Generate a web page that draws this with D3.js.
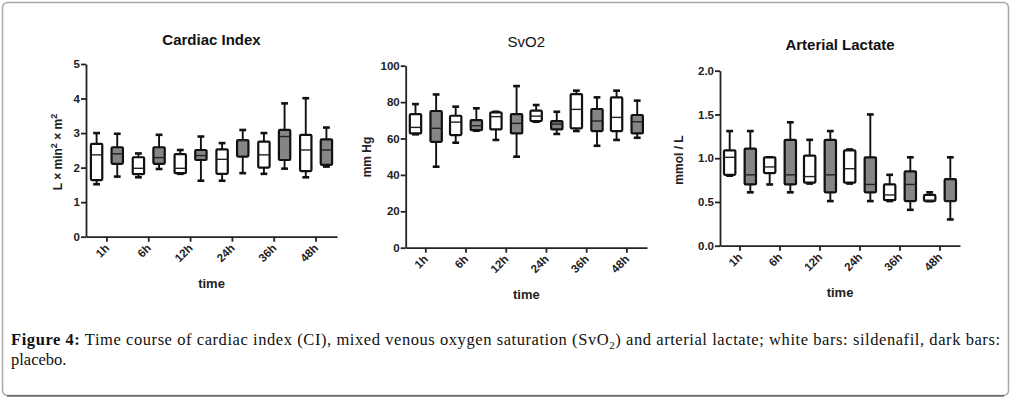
<!DOCTYPE html>
<html><head><meta charset="utf-8">
<script src="https://cdn.jsdelivr.net/npm/d3@7"></script>
<style>
html,body{margin:0;padding:0;background:#fff;}
svg{display:block;}
</style></head>
<body>
<svg id="chart" width="1012" height="399"></svg>
<script>
// ---- Data (each box: [min, q1, median, q3, max]) ----
const timeLabels = ["1h","6h","12h","24h","36h","48h"];
const seriesNames = ["sildenafil","placebo"];

const ciSildenafil = [[1.52,1.64,2.37,2.69,3.0],[1.72,1.81,1.98,2.30,2.41],[1.82,1.84,1.98,2.39,2.51],[1.62,1.82,2.24,2.53,2.71],[1.82,2.0,2.37,2.75,3.0],[1.72,1.90,2.51,2.95,4.01]];
const ciPlacebo    = [[1.74,2.11,2.40,2.59,2.98],[1.96,2.11,2.29,2.59,2.95],[1.62,2.22,2.35,2.51,2.90],[1.84,2.32,2.78,2.80,3.09],[1.97,2.22,2.90,3.09,3.86],[2.03,2.08,2.51,2.82,3.16]];
const ciTicks = [0,1,2,3,4,5];

const svoSildenafil = [[62.3,62.8,66.1,73.4,78.9],[57.7,61.9,69.0,72.5,77.5],[59.2,65.0,72.0,74.4,74.7],[69.2,69.6,72.3,75.3,78.4],[64.1,65.6,76.0,84.4,86.3],[59.2,64.1,71.6,82.6,86.3]];
const svoPlacebo    = [[44.5,58.2,65.6,75.1,84.2],[64.3,64.6,67.0,70.1,76.6],[50.0,62.8,68.3,73.4,88.8],[62.5,65.0,67.9,69.6,74.7],[56.0,64.1,69.6,76.2,82.6],[60.4,62.8,69.2,72.9,80.8]];
const svoTicks = [0,20,40,60,80,100];

const lacSildenafil = [[0.80,0.81,1.01,1.09,1.31],[0.70,0.83,0.90,1.01,1.01],[0.71,0.72,0.79,1.03,1.21],[0.71,0.72,0.88,1.09,1.10],[0.51,0.52,0.58,0.70,0.81],[0.51,0.51,0.52,0.58,0.61]];
const lacPlacebo    = [[0.61,0.70,0.81,1.11,1.31],[0.61,0.70,0.81,1.21,1.41],[0.51,0.61,0.81,1.21,1.31],[0.51,0.61,0.70,1.01,1.50],[0.41,0.51,0.70,0.85,1.01],[0.30,0.51,0.51,0.76,1.01]];
const lacTicks = [0,0.5,1.0,1.5,2.0];

const captionLine1 = ["Figure 4:", " Time course of cardiac index (CI), mixed venous oxygen saturation (SvO", "2", ") and arterial lactate; white bars: sildenafil, dark bars:"];
const captionLine2 = "placebo.";

// ---- Drawing ----
const svg = d3.select("#chart");
const seriesFill = ["#ffffff","#858585"];

// frame
svg.append("rect").attr("x",2.5).attr("y",2.5).attr("width",1006).attr("height",393)
  .attr("rx",5).attr("fill","none").attr("stroke","#a8a8a8").attr("stroke-width",1.5);
svg.append("line").attr("x1",7).attr("x2",1004).attr("y1",396).attr("y2",396)
  .attr("stroke","#333").attr("stroke-width",1.2);

const panels = [
  {title:"Cardiac Index", titleBold:true, x0:86, x1:337, yBottom:236.7, yTop:64, domain:[0,5], ticks:ciTicks, fmt:d3.format("d"),
   data:[ciSildenafil,ciPlacebo], ylabelX:62, ylabelY:152, titleY:45, timeY:288, ylabel:"ci"},
  {title:"SvO2", titleBold:false, x0:405.7, x1:647, yBottom:247.7, yTop:65.7, domain:[0,100], ticks:svoTicks, fmt:d3.format("d"),
   data:[svoSildenafil,svoPlacebo], ylabelX:371, ylabelY:157, titleY:47, timeY:299, ylabel:"mm Hg"},
  {title:"Arterial Lactate", titleBold:true, x0:720, x1:960, yBottom:245.7, yTop:70.7, domain:[0,2], ticks:lacTicks, fmt:d3.format(".1f"),
   data:[lacSildenafil,lacPlacebo], ylabelX:683, ylabelY:160, titleY:50, timeY:297, ylabel:"mmol / L"}
];

panels.forEach(p => {
  const g = svg.append("g");
  const x = d3.scaleBand().domain(timeLabels).range([p.x0,p.x1]);
  const y = d3.scaleLinear().domain(p.domain).range([p.yBottom,p.yTop]);
  const xs = d3.scaleBand().domain(seriesNames).range([-16,16]).paddingInner(0.45);

  // y axis
  const ya = g.append("g").attr("transform",`translate(${p.x0},0)`)
    .call(d3.axisLeft(y).tickValues(p.ticks).tickFormat(p.fmt).tickSize(5).tickSizeOuter(0));
  // x axis
  const xa = g.append("g").attr("transform",`translate(0,${p.yBottom})`)
    .call(d3.axisBottom(x).tickSize(5).tickSizeOuter(0));
  [ya,xa].forEach(a => {
    a.select(".domain").attr("stroke","#222").attr("stroke-width",1.8);
    a.selectAll(".tick line").attr("stroke","#222").attr("stroke-width",1.8);
    a.selectAll("text").attr("font-family","Liberation Sans, Arial, sans-serif")
      .attr("font-weight","bold").attr("font-size",11.5).attr("fill","#222");
  });
  ya.selectAll("text").attr("x",-6);
  xa.selectAll("text").attr("text-anchor","end").attr("dy",null).attr("y",0)
    .attr("transform","translate(3,12) rotate(-45)");

  // boxes
  p.data.forEach((series,si) => {
    series.forEach((d,i) => {
      const cx = x(timeLabels[i]) + x.bandwidth()/2 + xs(seriesNames[si]) + xs.bandwidth()/2;
      const w = xs.bandwidth();
      const bg = g.append("g");
      const sw = 1.9;
      bg.append("line").attr("x1",cx).attr("x2",cx).attr("y1",y(d[0])).attr("y2",y(d[1])).attr("stroke","#111").attr("stroke-width",sw);
      bg.append("line").attr("x1",cx).attr("x2",cx).attr("y1",y(d[3])).attr("y2",y(d[4])).attr("stroke","#111").attr("stroke-width",sw);
      [d[0],d[4]].forEach(v => bg.append("line").attr("x1",cx-w*0.3).attr("x2",cx+w*0.3).attr("y1",y(v)).attr("y2",y(v)).attr("stroke","#111").attr("stroke-width",2.6));
      bg.append("rect").attr("x",cx-w/2).attr("y",y(d[3])).attr("width",w).attr("height",Math.max(0.5,y(d[1])-y(d[3])))
        .attr("fill",seriesFill[si]).attr("stroke","#111").attr("stroke-width",2.2).attr("rx",1);
      bg.append("line").attr("x1",cx-w/2).attr("x2",cx+w/2).attr("y1",y(d[2])).attr("y2",y(d[2])).attr("stroke","#222").attr("stroke-width",1.4);
    });
  });

  // title
  g.append("text").attr("x",(p.x0+p.x1)/2).attr("y",p.titleY).attr("text-anchor","middle")
    .attr("font-family","Liberation Sans, Arial, sans-serif").attr("font-weight",p.titleBold?"bold":"normal")
    .attr("font-size",15).attr("fill","#111").text(p.title);
  // time label
  g.append("text").attr("x",(p.x0+p.x1)/2).attr("y",p.timeY).attr("text-anchor","middle")
    .attr("font-family","Liberation Sans, Arial, sans-serif").attr("font-weight","bold")
    .attr("font-size",13).attr("fill","#222").text("time");
  // y label
  const yl = g.append("text").attr("transform",`translate(${p.ylabelX},${p.ylabelY}) rotate(-90)`)
    .attr("text-anchor","middle").attr("font-family","Liberation Sans, Arial, sans-serif")
    .attr("font-weight","bold").attr("font-size",12).attr("fill","#222");
  if (p.ylabel === "ci") {
    yl.append("tspan").text("L × min");
    yl.append("tspan").attr("dy",-5).attr("font-size",9).text("2");
    yl.append("tspan").attr("dy",5).text(" × m");
    yl.append("tspan").attr("dy",-5).attr("font-size",9).text("2");
  } else {
    yl.text(p.ylabel);
  }
});

// caption
const cap = svg.append("text").attr("x",11).attr("y",345)
  .attr("font-family","Liberation Serif, Times New Roman, serif").attr("font-size",16.5).attr("fill","#111")
  .attr("textLength",989).attr("lengthAdjust","spacing");
cap.append("tspan").attr("font-weight","bold").text(captionLine1[0]);
cap.append("tspan").text(captionLine1[1]);
cap.append("tspan").attr("font-size",11).attr("dy",4).text(captionLine1[2]);
cap.append("tspan").attr("dy",-4).text(captionLine1[3]);
svg.append("text").attr("x",11).attr("y",365)
  .attr("font-family","Liberation Serif, Times New Roman, serif").attr("font-size",16.5).attr("fill","#111")
  .text(captionLine2);
</script>
</body></html>
